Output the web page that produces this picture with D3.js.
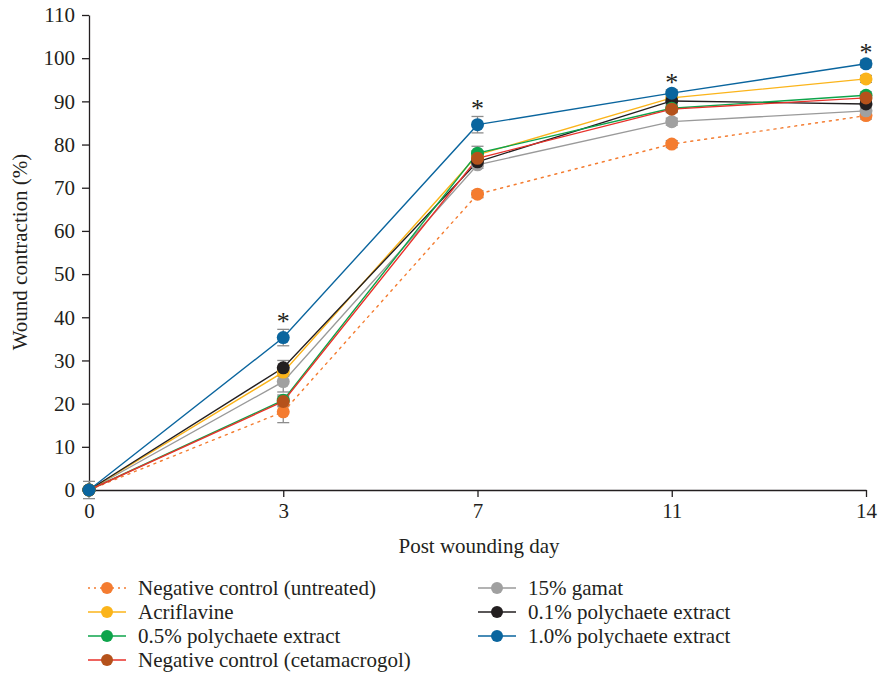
<!DOCTYPE html>
<html><head><meta charset="utf-8">
<script src="https://cdn.jsdelivr.net/npm/d3@7"></script>
<style>body{margin:0;background:#fff}svg{display:block}</style>
</head><body><svg id="c" width="881" height="680"></svg>
<script>
const days = ["0","3","7","11","14"];
const yTicks = [0,10,20,30,40,50,60,70,80,90,100,110];
const seriesNames = ["Negative control (untreated)","15% gamat","Acriflavine","0.1% polychaete extract","0.5% polychaete extract","Negative control (cetamacrogol)","1.0% polychaete extract"];
const untreated   = [0,18.1,68.5,80.1,86.7];
const gamat       = [0,25.1,75.3,85.3,87.8];
const acriflavine = [0,27.3,77.6,90.8,95.2];
const poly01      = [0,28.3,76.0,90.1,89.4];
const poly05      = [0,20.8,78.0,88.4,91.4];
const cetamacrogol= [0,20.5,76.8,88.2,90.8];
const poly10      = [0,35.3,84.6,91.9,98.7];
const untreatedErr   = [0,2.5,0.8,0.8,0.8];
const gamatErr       = [2.0,2.4,0.8,0.8,0.8];
const acriflavineErr = [0,1.0,1.0,0.8,0.8];
const poly01Err      = [0,1.7,1.0,0.8,0.8];
const poly05Err      = [0,1.2,1.6,0.8,0.8];
const cetamacrogolErr= [0,1.2,1.0,0.8,0.8];
const poly10Err      = [0,1.9,1.9,0.8,0.8];
const starDays = ["3","7","11","14"];

const FONT = '"Liberation Serif", "Times New Roman", "DejaVu Serif", serif';
const FS = 21;

const series = [
 {name:seriesNames[0], v:untreated, e:untreatedErr, line:"#f47c30", dot:"#f47c30", dash:"2,5"},
 {name:seriesNames[1], v:gamat, e:gamatErr, line:"#9a9a9a", dot:"#a0a0a0"},
 {name:seriesNames[2], v:acriflavine, e:acriflavineErr, line:"#fbb41a", dot:"#fbb41a"},
 {name:seriesNames[3], v:poly01, e:poly01Err, line:"#231f20", dot:"#231f20"},
 {name:seriesNames[4], v:poly05, e:poly05Err, line:"#0ea44b", dot:"#0ea44b"},
 {name:seriesNames[5], v:cetamacrogol, e:cetamacrogolErr, line:"#e8312a", dot:"#b5521b"},
 {name:seriesNames[6], v:poly10, e:poly10Err, line:"#0a659e", dot:"#0a659e"}
];

const svg = d3.select("#c");
const x = d3.scalePoint().domain(days).range([89,866]);
const y = d3.scaleLinear().domain([0,110]).range([490,15]);

const gy = svg.append("g").attr("transform","translate(89,0)")
  .call(d3.axisLeft(y).tickValues(yTicks).tickSize(7).tickPadding(7).tickSizeOuter(0));
const gx = svg.append("g").attr("transform","translate(0,490)")
  .call(d3.axisBottom(x).tickSize(7).tickPadding(6).tickSizeOuter(0));
[gx,gy].forEach(g=>{
  g.attr("font-family",null).attr("font-size",null);
  g.select(".domain").attr("stroke","#231f20").attr("stroke-width",1.3);
  g.selectAll(".tick line").attr("stroke","#231f20").attr("stroke-width",1.3);
  g.selectAll("text").style("font-size",FS+"px").style("font-family",FONT).attr("fill","#231f20");
});

function txt(sel){ return sel.style("font-family",FONT).style("font-size",FS+"px").attr("fill","#231f20"); }
txt(svg.append("text").attr("x",479).attr("y",553).attr("text-anchor","middle").text("Post wounding day"));
txt(svg.append("text").attr("transform","translate(27,252) rotate(-90)").attr("text-anchor","middle").text("Wound contraction (%)"));

// error bars
series.forEach(s=>{
  const g = svg.append("g");
  days.forEach((d,i)=>{
    if(!s.e[i]) return;
    const cx = x(d), y1 = y(s.v[i]-s.e[i]), y2 = y(s.v[i]+s.e[i]);
    g.append("line").attr("x1",cx).attr("x2",cx).attr("y1",y1).attr("y2",y2).attr("stroke","#8c8c8c").attr("stroke-width",1.3);
    [y1,y2].forEach(yy=>g.append("line").attr("x1",cx-6).attr("x2",cx+6).attr("y1",yy).attr("y2",yy).attr("stroke","#8c8c8c").attr("stroke-width",1.3));
  });
});

const line = d3.line().x((d,i)=>x(days[i])).y(d=>y(d));
series.forEach(s=>{
  svg.append("path").datum(s.v).attr("d",line).attr("fill","none").attr("stroke",s.line)
    .attr("stroke-width",1.4).attr("stroke-dasharray",s.dash||null).attr("stroke-linecap",s.dash?"round":"butt");
});
series.forEach(s=>{
  svg.append("g").selectAll("circle").data(s.v).join("circle")
    .attr("cx",(d,i)=>x(days[i])).attr("cy",d=>y(d)).attr("r",6.5).attr("fill",s.dot);
});

// asterisks
starDays.forEach(d=>{
  const i = days.indexOf(d);
  svg.append("text").attr("x",x(d)).attr("y",y(poly10[i]+poly10Err[i])+1).attr("text-anchor","middle")
    .style("font-size","26px").style("font-family",FONT).attr("fill","#231f20").text("*");
});

// legend
const legendOrder = [
  {s:series[0], col:0,row:0},{s:series[2],col:0,row:1},{s:series[4],col:0,row:2},{s:series[5],col:0,row:3},
  {s:series[1], col:1,row:0},{s:series[3],col:1,row:1},{s:series[6],col:1,row:2}
];
const colX = [107,497], rowY0 = 588, rowH = 24;
legendOrder.forEach(o=>{
  const cx = colX[o.col], cy = rowY0 + o.row*rowH;
  const g = svg.append("g");
  g.append("line").attr("x1",cx-19).attr("x2",cx+19).attr("y1",cy).attr("y2",cy).attr("stroke",o.s.line)
    .attr("stroke-width",1.4).attr("stroke-dasharray",o.s.dash?"2,4":null);
  g.append("circle").attr("cx",cx).attr("cy",cy).attr("r",6).attr("fill",o.s.dot);
  txt(g.append("text").attr("x",cx+31).attr("y",cy+7).text(o.s.name));
});
</script></body></html>
